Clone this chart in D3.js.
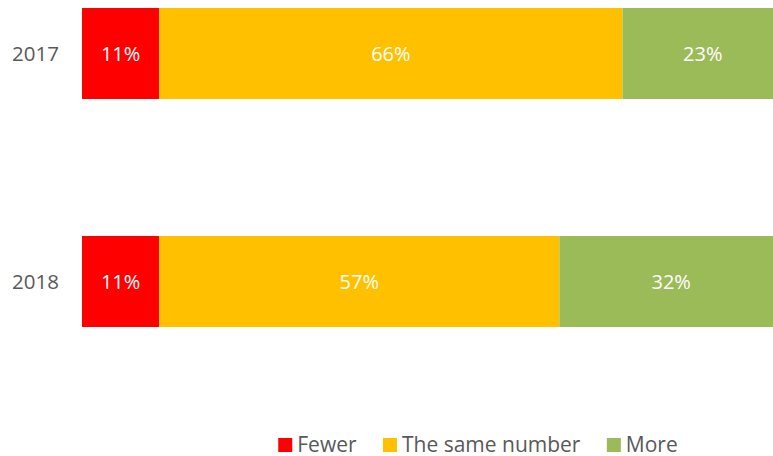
<!DOCTYPE html>
<html>
<head>
<meta charset="utf-8">
<script src="https://cdn.jsdelivr.net/npm/d3@7"></script>
<style>
  html, body { margin: 0; padding: 0; background: #fff; overflow: hidden; }
  svg { display: block; font-family: "Open Sans", sans-serif; }
</style>
</head>
<body>
<svg id="chart" width="773" height="456"></svg>
<script>
// Daten
const years = ["2017", "2018"];
const seriesKeys = ["fewer", "same", "more"];
const seriesLabels = ["Fewer", "The same number", "More"];
const fewerValues = [11, 11];
const sameValues = [66, 57];
const moreValues = [23, 32];
const seriesColors = ["#ff0000", "#ffc000", "#9bbb59"];

const rows = years.map((y, i) => ({
  year: y,
  fewer: fewerValues[i],
  same: sameValues[i],
  more: moreValues[i]
}));

const svg = d3.select("#chart");

// Skala reicht etwas über den rechten Rand hinaus (wie im Original abgeschnitten)
const xScale = d3.scaleLinear()
  .domain([0, 100])
  .range([82, 784]);

const yScale = d3.scaleBand()
  .domain(years)
  .range([8, 8 + 228 + 91])
  .paddingInner(137 / 228)
  .paddingOuter(0);

const colorScale = d3.scaleOrdinal()
  .domain(seriesKeys)
  .range(seriesColors);

const series = d3.stack().keys(seriesKeys)(rows);

const groups = svg.selectAll(".stack-group")
  .data(series)
  .enter()
  .append("g")
  .attr("class", "stack-group")
  .attr("fill", d => colorScale(d.key));

groups.selectAll("rect")
  .data(d => d)
  .enter()
  .append("rect")
  .attr("x", d => xScale(d[0]))
  .attr("y", d => yScale(d.data.year))
  .attr("width", d => xScale(d[1]) - xScale(d[0]))
  .attr("height", yScale.bandwidth());

groups.selectAll("text")
  .data(d => d)
  .enter()
  .append("text")
  .attr("x", d => (xScale(d[0]) + Math.min(xScale(d[1]), 773)) / 2 + (d[1] === 100 ? 5 : 0))
  .attr("y", d => yScale(d.data.year) + yScale.bandwidth() / 2)
  .attr("dy", "0.35em")
  .attr("text-anchor", "middle")
  .attr("fill", "#fff")
  .attr("font-size", "20px")
  .text(d => (d[1] - d[0]) + "%");

// Jahresbeschriftung
svg.append("g")
  .selectAll("text")
  .data(years)
  .enter()
  .append("text")
  .attr("x", 59)
  .attr("y", d => yScale(d) + yScale.bandwidth() / 2)
  .attr("dy", "0.35em")
  .attr("text-anchor", "end")
  .attr("fill", "#595959")
  .attr("font-size", "20.5px")
  .text(d => d);

// Legende
const legend = svg.append("g").attr("class", "legend");
const legendItems = legend.selectAll("g")
  .data(seriesKeys.map((k, i) => ({ key: k, label: seriesLabels[i] })))
  .enter()
  .append("g");

legendItems.append("rect")
  .attr("width", 14)
  .attr("height", 14)
  .attr("y", -7)
  .attr("fill", d => colorScale(d.key));

legendItems.append("text")
  .attr("x", 19)
  .attr("dy", "0.35em")
  .attr("fill", "#595959")
  .attr("font-size", "21px")
  .text(d => d.label);

let offset = 0;
legendItems.each(function () {
  const w = this.getBBox().width;
  d3.select(this).attr("transform", `translate(${offset},0)`);
  offset += w + 26;
});
const legendBox = legend.node().getBBox();
legend.attr("transform", `translate(${478 - legendBox.width / 2}, 445)`);
</script>
</body>
</html>
